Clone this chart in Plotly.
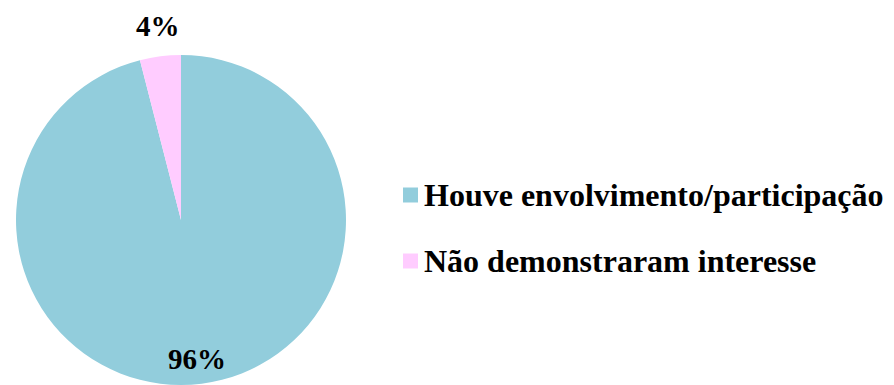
import plotly.graph_objects as go

labels = ["Houve envolvimento/participação", "Não demonstraram interesse"]
values = [96, 4]
colors = ["#92CDDC", "#FFCCFF"]

W, H = 894, 385
FONT = "Liberation Serif, Times New Roman, serif"

fig = go.Figure(go.Pie(
    labels=labels, values=values, sort=False, direction="clockwise", rotation=0,
    marker=dict(colors=colors, line=dict(width=0)),
    textinfo="none", hoverinfo="label+percent", showlegend=False,
    domain=dict(x=[14 / W, 348 / W], y=[0, 1 - 55 / H]),
))

# percentage labels
pct = [round(v / sum(values) * 100) for v in values]
label_pos = [(197, 359), (158, 26)]
for p, (x, y) in zip(pct, label_pos):
    fig.add_annotation(x=x / W, y=1 - y / H, xref="paper", yref="paper",
                       text=f"<b>{p}%</b>", showarrow=False, xanchor="center", yanchor="middle",
                       font=dict(family=FONT, size=29, color="black"))

# custom legend
leg_y = [195, 261]
for lab, col, y in zip(labels, colors, leg_y):
    fig.add_shape(type="rect", xref="paper", yref="paper",
                  x0=403 / W, x1=418 / W, y0=1 - (y + 7.5) / H, y1=1 - (y - 7.5) / H,
                  fillcolor=col, line=dict(width=0))
    fig.add_annotation(x=422 / W, y=1 - y / H, xref="paper", yref="paper",
                       text=f"<b>{lab}</b>", showarrow=False, xanchor="left", yanchor="middle",
                       font=dict(family=FONT, size=32, color="black"))

fig.update_layout(width=W, height=H, margin=dict(l=0, r=0, t=0, b=0),
                  paper_bgcolor="white", plot_bgcolor="white")
fig.write_html("out.html")
